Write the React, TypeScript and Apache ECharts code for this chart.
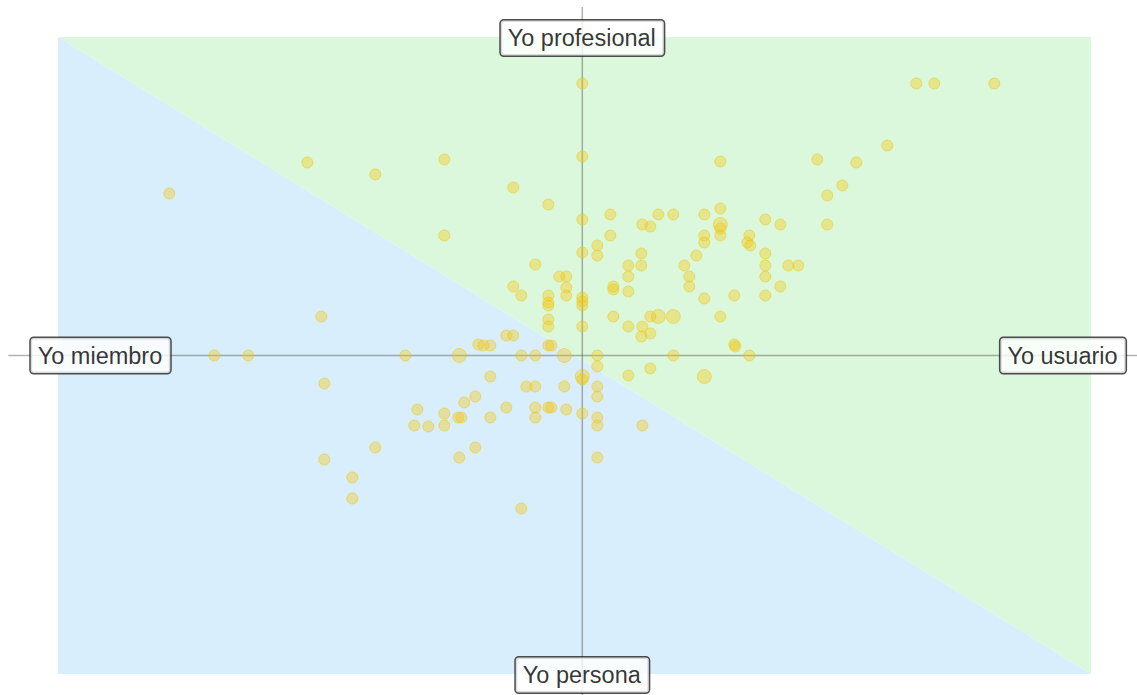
import React, { useEffect, useRef } from "react";
import * as echarts from "echarts";

// Axis ranges (data units)
const X_MIN = -5.243;
const X_MAX = 5.087;
const Y_MIN = -3.185;
const Y_MAX = 3.185;

// Regular-size points [x, y]
const regularPoints: [number, number][] = [
  [-4.13, 1.62], [-2.75, 1.93], [-2.07, 1.81], [-1.38, 1.96], [-0.69, 1.68],
  [-0.34, 1.51], [-1.38, 1.2], [-0.47, 0.91], [-0.23, 0.79], [-0.16, 0.79],
  [-0.16, 0.68], [-0.69, 0.69], [-0.61, 0.6], [-0.34, 0.6], [-0.16, 0.6],
  [-0.34, 0.53], [-0.34, 0.5], [-0.34, 0.36], [-0.34, 0.29], [-0.76, 0.2],
  [-0.69, 0.2], [-1.04, 0.11], [-0.99, 0.1], [-0.92, 0.1], [-0.34, 0.1],
  [-0.31, 0.1], [-2.61, 0.39],
  [0, 2.72], [0, 1.99], [0, 1.36], [0, 1.03], [0, 0.58], [0, 0.54], [0, 0.5],
  [0, 0.29], [0, -0.24], [0, -0.58],
  [-3.68, 0], [-3.34, 0], [-1.77, 0], [-0.61, 0], [-0.47, 0], [0.15, 0],
  [0.91, 0], [1.67, 0],
  [-0.92, -0.21], [-2.58, -0.28], [-0.56, -0.31], [-0.47, -0.31], [-0.18, -0.31],
  [-1.07, -0.41], [-1.18, -0.47], [-1.65, -0.54], [-1.38, -0.58], [-1.24, -0.62],
  [-1.21, -0.62], [-0.92, -0.62], [-0.76, -0.52], [-0.47, -0.52], [-0.47, -0.62],
  [-0.34, -0.52], [-0.31, -0.52], [-0.16, -0.54], [-1.68, -0.7], [-1.54, -0.71],
  [-1.38, -0.7], [-2.07, -0.92], [-1.07, -0.92], [-1.23, -1.02], [-2.58, -1.04],
  [-2.3, -1.22], [-2.3, -1.43], [-0.61, -1.53],
  [0.15, -0.11], [0.46, -0.2], [0.68, -0.13], [0.15, -0.31], [0.15, -0.41],
  [0.15, -0.62], [0.15, -0.7], [0.6, -0.7], [0.15, -1.02],
  [1.52, 0.11], [1.53, 0.09], [0.31, 0.39], [0.46, 0.29], [0.6, 0.29],
  [0.59, 0.19], [0.68, 0.22], [0.68, 0.39], [1.38, 0.39], [0.31, 0.66],
  [0.46, 0.64], [1.22, 0.57], [1.52, 0.6], [1.83, 0.6], [0.15, 1.1],
  [0.15, 1.0], [0.59, 1.02], [0.59, 0.9], [0.46, 0.9], [0.46, 0.79],
  [0.31, 0.69], [1.14, 1.0], [1.02, 0.9], [1.07, 0.79], [1.07, 0.69],
  [1.83, 1.02], [1.83, 0.9], [1.83, 0.79], [2.06, 0.9], [2.16, 0.9],
  [1.98, 0.69],
  [3.34, 2.72], [3.52, 2.72], [4.12, 2.72], [3.05, 2.1], [2.35, 1.96],
  [2.74, 1.93], [1.38, 1.94], [2.6, 1.7], [2.45, 1.6], [2.45, 1.31],
  [1.38, 1.47], [0.28, 1.41], [0.76, 1.41], [0.91, 1.41], [1.22, 1.41],
  [1.83, 1.36], [1.98, 1.31], [0.6, 1.31], [0.68, 1.29], [1.38, 1.27],
  [1.38, 1.2], [0.28, 1.2], [1.22, 1.2], [1.22, 1.13], [1.67, 1.2],
  [1.65, 1.13], [1.68, 1.1],
];

// Larger points [x, y]
const largePoints: [number, number][] = [
  [0, -0.21], [-1.23, 0], [-0.18, 0], [1.22, -0.21], [0.76, 0.39], [0.91, 0.39], [1.38, 1.31],
];

// Pole labels
const poleNames = ["Yo profesional", "Yo persona", "Yo miembro", "Yo usuario"];
const poleX = [0, 0, -4.818, 4.807];
const poleY = [3.175, -3.195, 0, 0];

// Reference cross lines (extend past the plot)
const hLineX = [-5.74, 5.55];
const vLineY = [-3.395, 3.485];

const pointStyle = {
  color: "rgba(242,200,20,0.5)",
  borderColor: "rgba(238,195,15,0.6)",
  borderWidth: 1,
};

export default function App() {
  const ref = useRef<HTMLDivElement>(null);

  useEffect(() => {
    if (!ref.current) return;
    const chart = echarts.init(ref.current, undefined, { renderer: "svg" });
    chart.setOption({
      animation: false,
      grid: { left: 58, right: 46, top: 37, bottom: 21, containLabel: false },
      xAxis: {
        type: "value",
        min: X_MIN,
        max: X_MAX,
        show: false,
        splitLine: { show: false },
      },
      yAxis: {
        type: "value",
        min: Y_MIN,
        max: Y_MAX,
        show: false,
        splitLine: { show: false },
      },
      series: [
        {
          type: "custom",
          silent: true,
          z: 0,
          clip: false,
          data: [[0, 0]],
          renderItem: (_p: any, api: any) => {
            const tl = api.coord([X_MIN, Y_MAX]);
            const tr = api.coord([X_MAX, Y_MAX]);
            const br = api.coord([X_MAX, Y_MIN]);
            const bl = api.coord([X_MIN, Y_MIN]);
            return {
              type: "group",
              children: [
                { type: "polygon", shape: { points: [tl, tr, br] }, style: { fill: "#DCF8DC" } },
                { type: "polygon", shape: { points: [tl, bl, br] }, style: { fill: "#D9EEFC" } },
              ],
            };
          },
        },
        {
          type: "custom",
          silent: true,
          z: 1,
          clip: false,
          data: [[0, 0]],
          renderItem: (_p: any, api: any) => {
            const h1 = api.coord([hLineX[0], 0]);
            const h2 = api.coord([hLineX[1], 0]);
            const v1 = api.coord([0, vLineY[0]]);
            const v2 = api.coord([0, vLineY[1]]);
            const st = { stroke: "rgba(60,60,60,0.4)", lineWidth: 1.5 };
            return {
              type: "group",
              children: [
                { type: "line", shape: { x1: h1[0], y1: h1[1], x2: h2[0], y2: h2[1] }, style: st },
                { type: "line", shape: { x1: v1[0], y1: v1[1], x2: v2[0], y2: v2[1] }, style: st },
              ],
            };
          },
        },
        {
          type: "scatter",
          z: 2,
          symbol: "circle",
          symbolSize: 11,
          itemStyle: pointStyle,
          data: regularPoints,
        },
        {
          type: "scatter",
          z: 2,
          symbol: "circle",
          symbolSize: 14,
          itemStyle: pointStyle,
          data: largePoints,
        },
        {
          type: "scatter",
          z: 5,
          clip: false,
          silent: true,
          symbolSize: 1,
          itemStyle: { color: "rgba(0,0,0,0)" },
          data: poleNames.map((n, i) => ({ name: n, value: [poleX[i], poleY[i]] })),
          label: {
            show: true,
            position: "inside",
            formatter: "{b}",
            fontSize: 23.5,
            fontFamily: "'Liberation Sans', Arial, sans-serif",
            color: "#000",
            textBorderWidth: 0,
            backgroundColor: "#fff",
            borderColor: "#222",
            borderWidth: 1.5,
            borderRadius: 3,
            padding: [4, 8, 4, 7],
            lineHeight: 27,
          },
        },
      ],
    });
    return () => chart.dispose();
  }, []);

  return (
    <div
      ref={ref}
      style={{ position: "fixed", left: 0, top: 0, width: 1137, height: 695, background: "#fff" }}
    />
  );
}
